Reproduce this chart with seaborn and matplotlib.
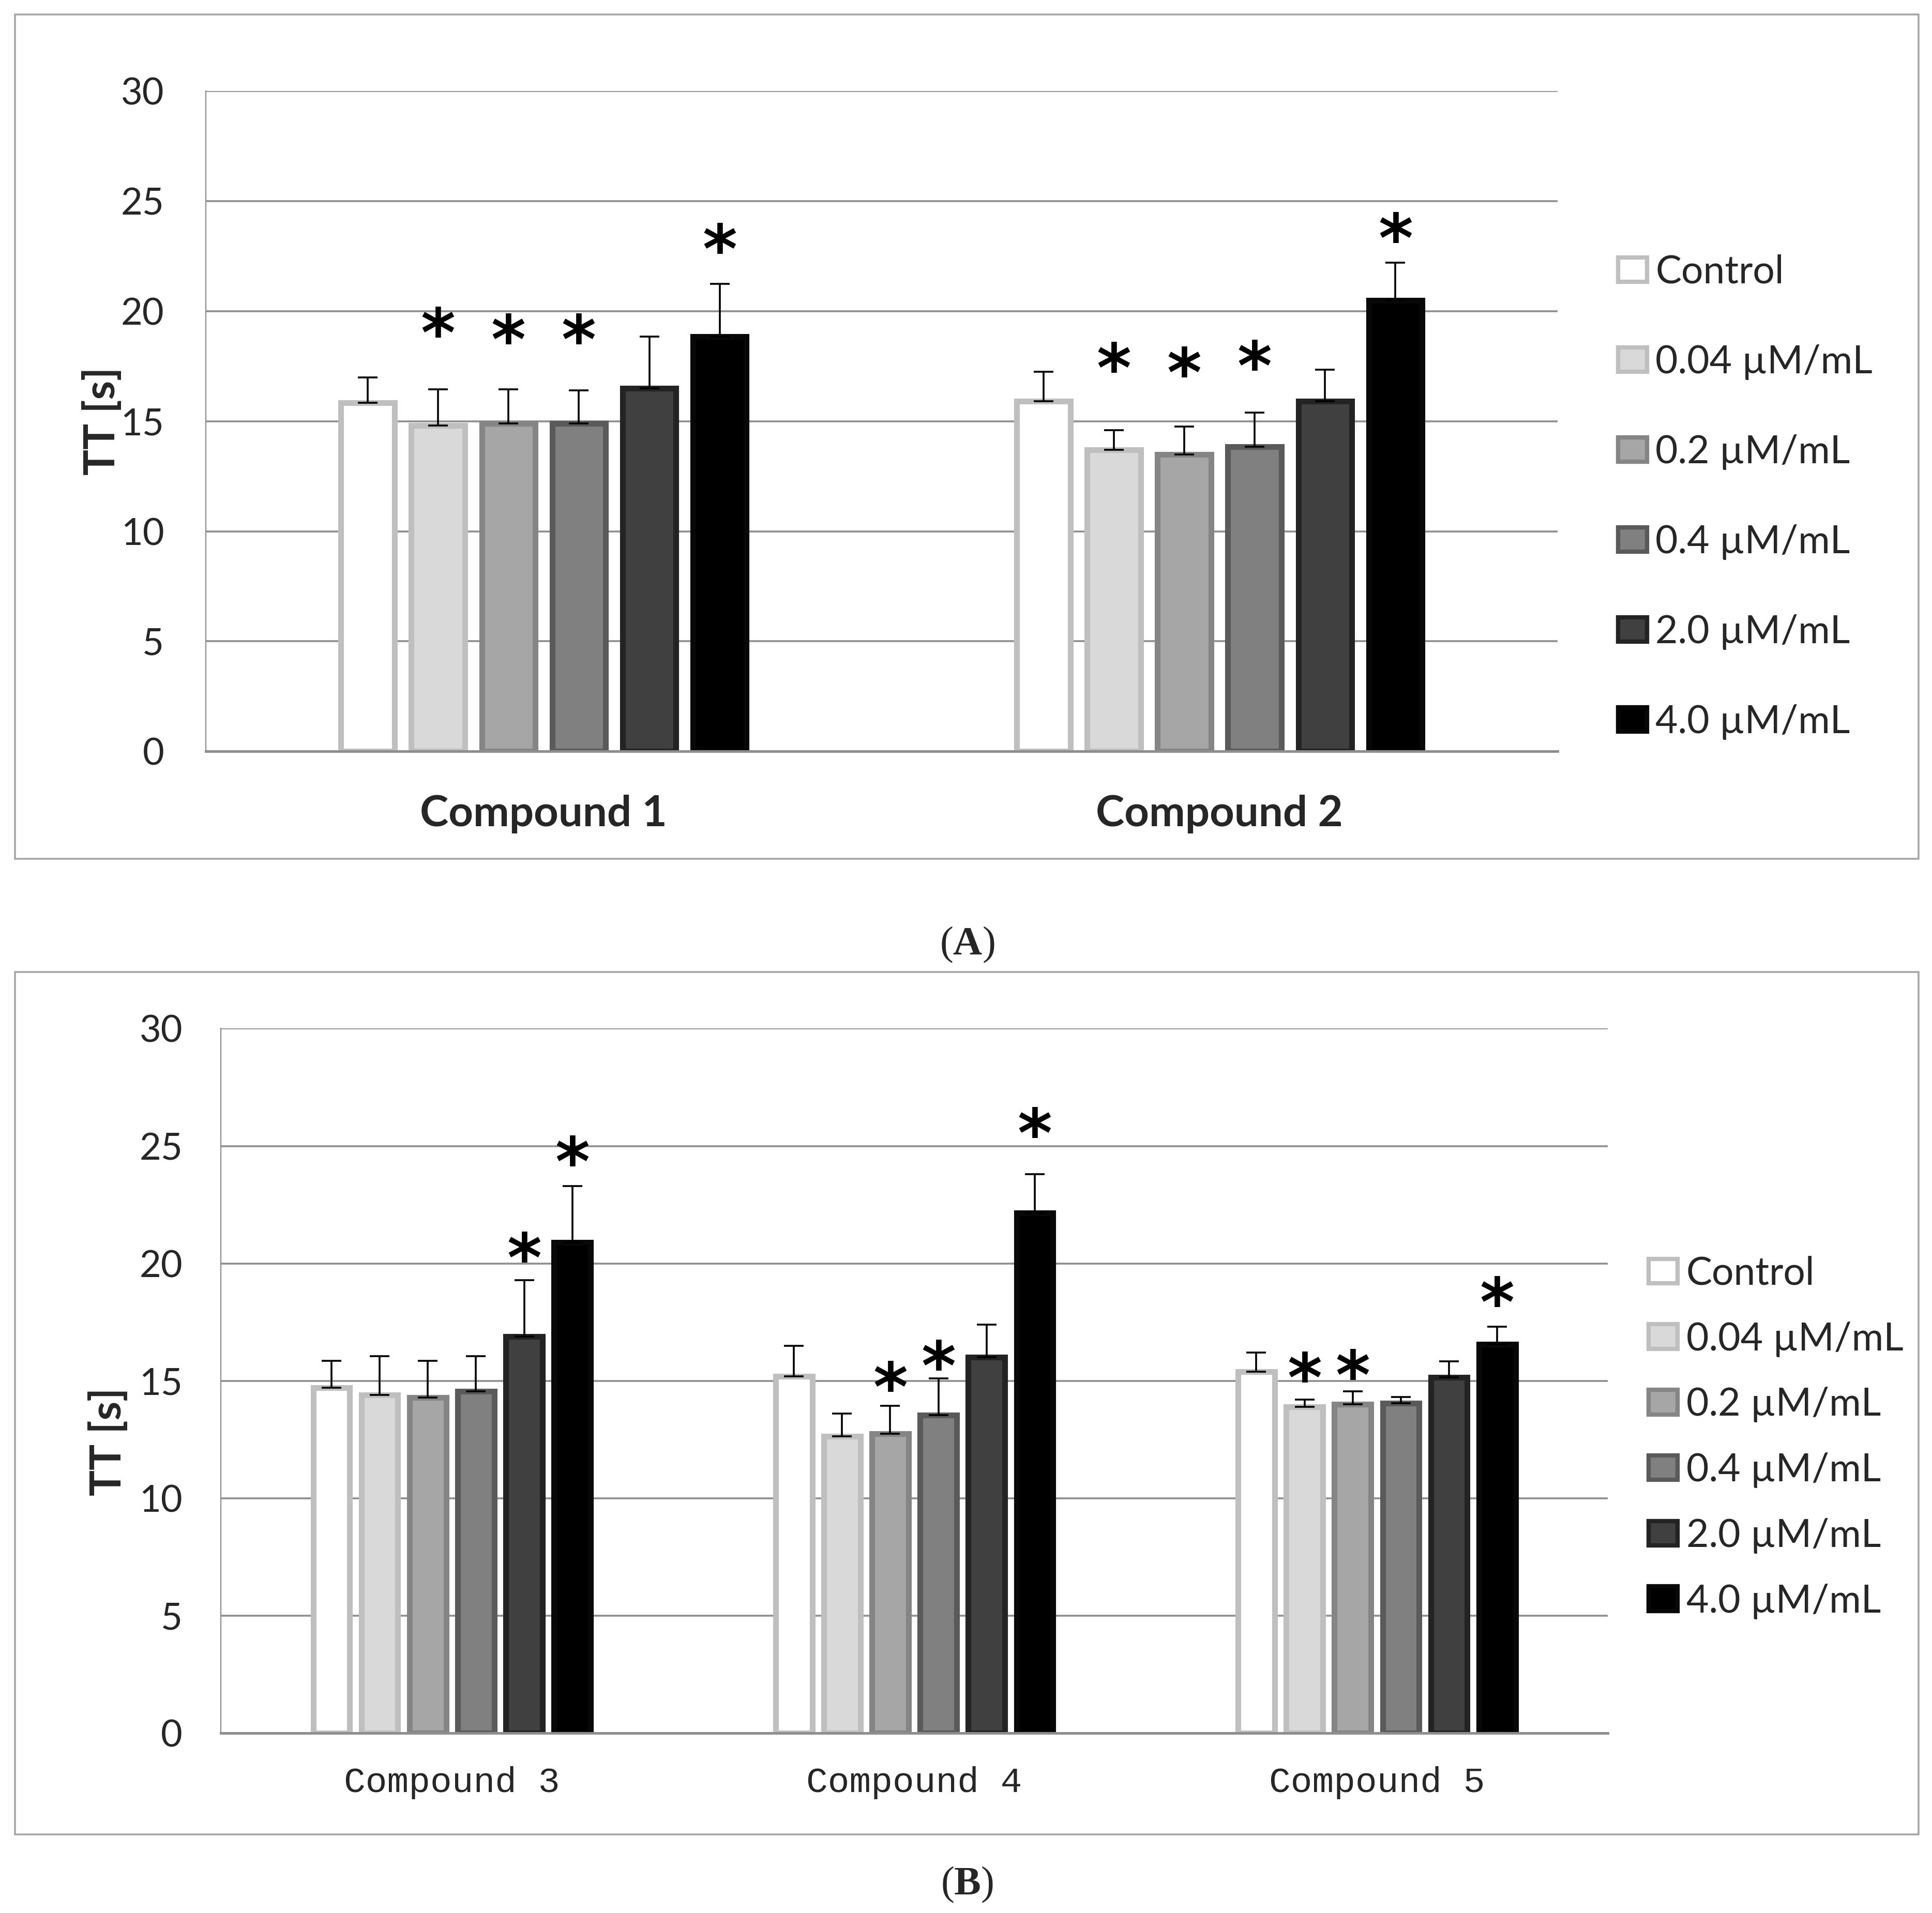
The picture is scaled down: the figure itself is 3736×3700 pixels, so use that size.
import numpy as np
import pandas as pd
import matplotlib
matplotlib.use("Agg")
import matplotlib.pyplot as plt
import seaborn as sns
from matplotlib.patches import Patch, Rectangle

# ---------------- data ----------------
doses = ["Control", "0.04 µM/mL", "0.2 µM/mL", "0.4 µM/mL", "2.0 µM/mL", "4.0 µM/mL"]

compounds_A = ["Compound 1", "Compound 2"]
c1_mean = [15.85, 14.8, 14.9, 14.9, 16.5, 18.85]
c1_err = [1.15, 1.65, 1.55, 1.5, 2.35, 2.4]
c2_mean = [15.9, 13.7, 13.5, 13.85, 15.9, 20.5]
c2_err = [1.35, 0.9, 1.25, 1.55, 1.45, 1.7]

compounds_B = ["Compound 3", "Compound 4", "Compound 5"]
c3_mean = [14.7, 14.4, 14.3, 14.55, 16.9, 20.9]
c3_err = [1.15, 1.65, 1.55, 1.5, 2.4, 2.4]
c4_mean = [15.2, 12.65, 12.75, 13.55, 16.0, 22.15]
c4_err = [1.3, 0.95, 1.2, 1.55, 1.4, 1.65]
c5_mean = [15.4, 13.9, 14.0, 14.05, 15.15, 16.55]
c5_err = [0.8, 0.3, 0.55, 0.27, 0.68, 0.76]

# significance marks: height (s) of the asterisk, None = not significant
c1_star = [None, 19.5, 19.2, 19.2, None, 23.3]
c2_star = [None, 17.9, 17.7, 18.0, None, 23.8]
c3_star = [None, None, None, None, 20.7, 24.8]
c4_star = [None, None, 15.2, 16.1, None, 26.0]
c5_star = [None, 15.6, 15.7, None, None, 18.8]

y_ticks = [0, 5, 10, 15, 20, 25, 30]

# ---------------- style ----------------
fills = ["#ffffff", "#d9d9d9", "#a6a6a6", "#808080", "#404040", "#000000"]
edges = ["#bfbfbf", "#bfbfbf", "#858585", "#5a5a5a", "#232323", "#080808"]
GRID = "#8e8e8e"
GROUP_W = 0.625

sns.set_style("white")
plt.rcParams["font.family"] = ["Lato", "DejaVu Sans"]
plt.rcParams["mathtext.fontset"] = "custom"
plt.rcParams["mathtext.rm"] = "Liberation Serif"
plt.rcParams["mathtext.bf"] = "Liberation Serif:bold"

fig = plt.figure(figsize=(18.68, 18.5), dpi=200)


def draw_panel(rect, compounds, means, errs, stars, xlab_kw, xpad, ytick_pad,
               ylab_pos, legend_anchor, labelspacing):
    ax = fig.add_axes(rect)
    rows = []
    for ci, comp in enumerate(compounds):
        for di, dose in enumerate(doses):
            rows.append({"compound": comp, "dose": dose, "TT": means[ci][di]})
    df = pd.DataFrame(rows)
    sns.barplot(data=df, x="compound", y="TT", hue="dose", order=compounds,
                hue_order=doses, palette=fills, saturation=1, width=GROUP_W,
                gap=0.24, errorbar=None, linewidth=4, edgecolor="k",
                legend=False, ax=ax, zorder=3)
    slot = GROUP_W / len(doses)
    xs, ys, es = [], [], []
    for bar in ax.patches:
        xc = bar.get_x() + bar.get_width() / 2
        ci = int(round(xc))
        hi = int(round((xc - ci + GROUP_W / 2 - slot / 2) / slot))
        bar.set_edgecolor(edges[hi])
        xs.append(xc)
        ys.append(bar.get_height())
        es.append(errs[ci][hi])
        s = stars[ci][hi]
        if s is not None:
            ax.annotate("*", xy=(xc, s), xytext=(0, -11),
                        textcoords="offset points", ha="center", va="center",
                        fontsize=46, fontweight="bold", family="DejaVu Sans",
                        color="black", zorder=5)
    ax.errorbar(xs, ys, yerr=[np.zeros(len(es)), es], fmt="none",
                ecolor="black", elinewidth=1.3, capsize=7, capthick=1.3,
                zorder=4)

    ax.set_ylim(0, 30)
    ax.set_xlim(-0.5, len(compounds) - 0.5)
    ax.set_yticks(y_ticks)
    ax.set_yticklabels([str(t) for t in y_ticks], fontsize=26)
    ax.yaxis.grid(True, color=GRID, linewidth=1.3, zorder=0)
    ax.set_axisbelow(True)
    ax.set_xlabel("")
    ax.set_ylabel("")
    for side in ["top", "right"]:
        ax.spines[side].set_visible(False)
    ax.spines["left"].set_color(GRID)
    ax.spines["left"].set_linewidth(0.8)
    ax.spines["bottom"].set_color(GRID)
    ax.spines["bottom"].set_linewidth(1.8)
    ax.spines["bottom"].set_zorder(6)
    ax.tick_params(axis="y", which="major", length=9.5, width=1.3,
                   color=GRID, pad=ytick_pad, direction="out")
    ax.set_xticks(np.arange(len(compounds)))
    ax.set_xticklabels(compounds, **xlab_kw)
    ax.tick_params(axis="x", which="major", length=0, pad=xpad)
    ax.set_xticks(np.arange(len(compounds) + 1) - 0.5, minor=True)
    ax.tick_params(axis="x", which="minor", length=10.5, width=0.8,
                   color=GRID, direction="out")
    ax.text(ylab_pos[0], ylab_pos[1], "TT [s]", transform=ax.transAxes,
            rotation=90, ha="center", va="center", fontsize=30,
            fontweight="bold")
    handles = [Patch(facecolor=f, edgecolor=e, linewidth=3)
               for f, e in zip(fills, edges)]
    fig.legend(handles, doses, loc="center left",
               bbox_to_anchor=legend_anchor, bbox_transform=fig.transFigure,
               frameon=False, fontsize=27, handlelength=0.75,
               handleheight=0.6, handletextpad=0.22, labelspacing=labelspacing,
               borderpad=0, borderaxespad=0)
    return ax


axA = draw_panel([0.1065, 0.6072, 0.6996, 0.3452], compounds_A,
                 [c1_mean, c2_mean], [c1_err, c2_err], [c1_star, c2_star],
                 dict(fontsize=30, fontweight="bold"), 30, 19.5,
                 (-0.0766, 0.5), (0.8374, 0.7402), 1.40)

axB = draw_panel([0.1142, 0.0940, 0.7181, 0.3683], compounds_B,
                 [c3_mean, c4_mean, c5_mean], [c3_err, c4_err, c5_err],
                 [c3_star, c4_star, c5_star],
                 dict(fontsize=25, family="Liberation Mono"), 23, 17,
                 (-0.081, 0.414), (0.8533, 0.2486), 0.77)

# panel frames
for y0, y1 in [(0.5512, 0.9923), (0.0412, 0.4919)]:
    fig.patches.append(Rectangle((0.00765, y0), 0.9853, y1 - y0,
                                 transform=fig.transFigure, fill=False,
                                 edgecolor="#a6a6a6", linewidth=1.3))

fig.text(0.5006, 1 - 767 / 1553, r"($\mathbf{A}$)", ha="center", va="center",
         fontsize=28, family="Liberation Serif")
fig.text(0.5006, 1 - 1530 / 1553, r"($\mathbf{B}$)", ha="center", va="center",
         fontsize=28, family="Liberation Serif")

fig.savefig("out.png", dpi=200, facecolor="white")
